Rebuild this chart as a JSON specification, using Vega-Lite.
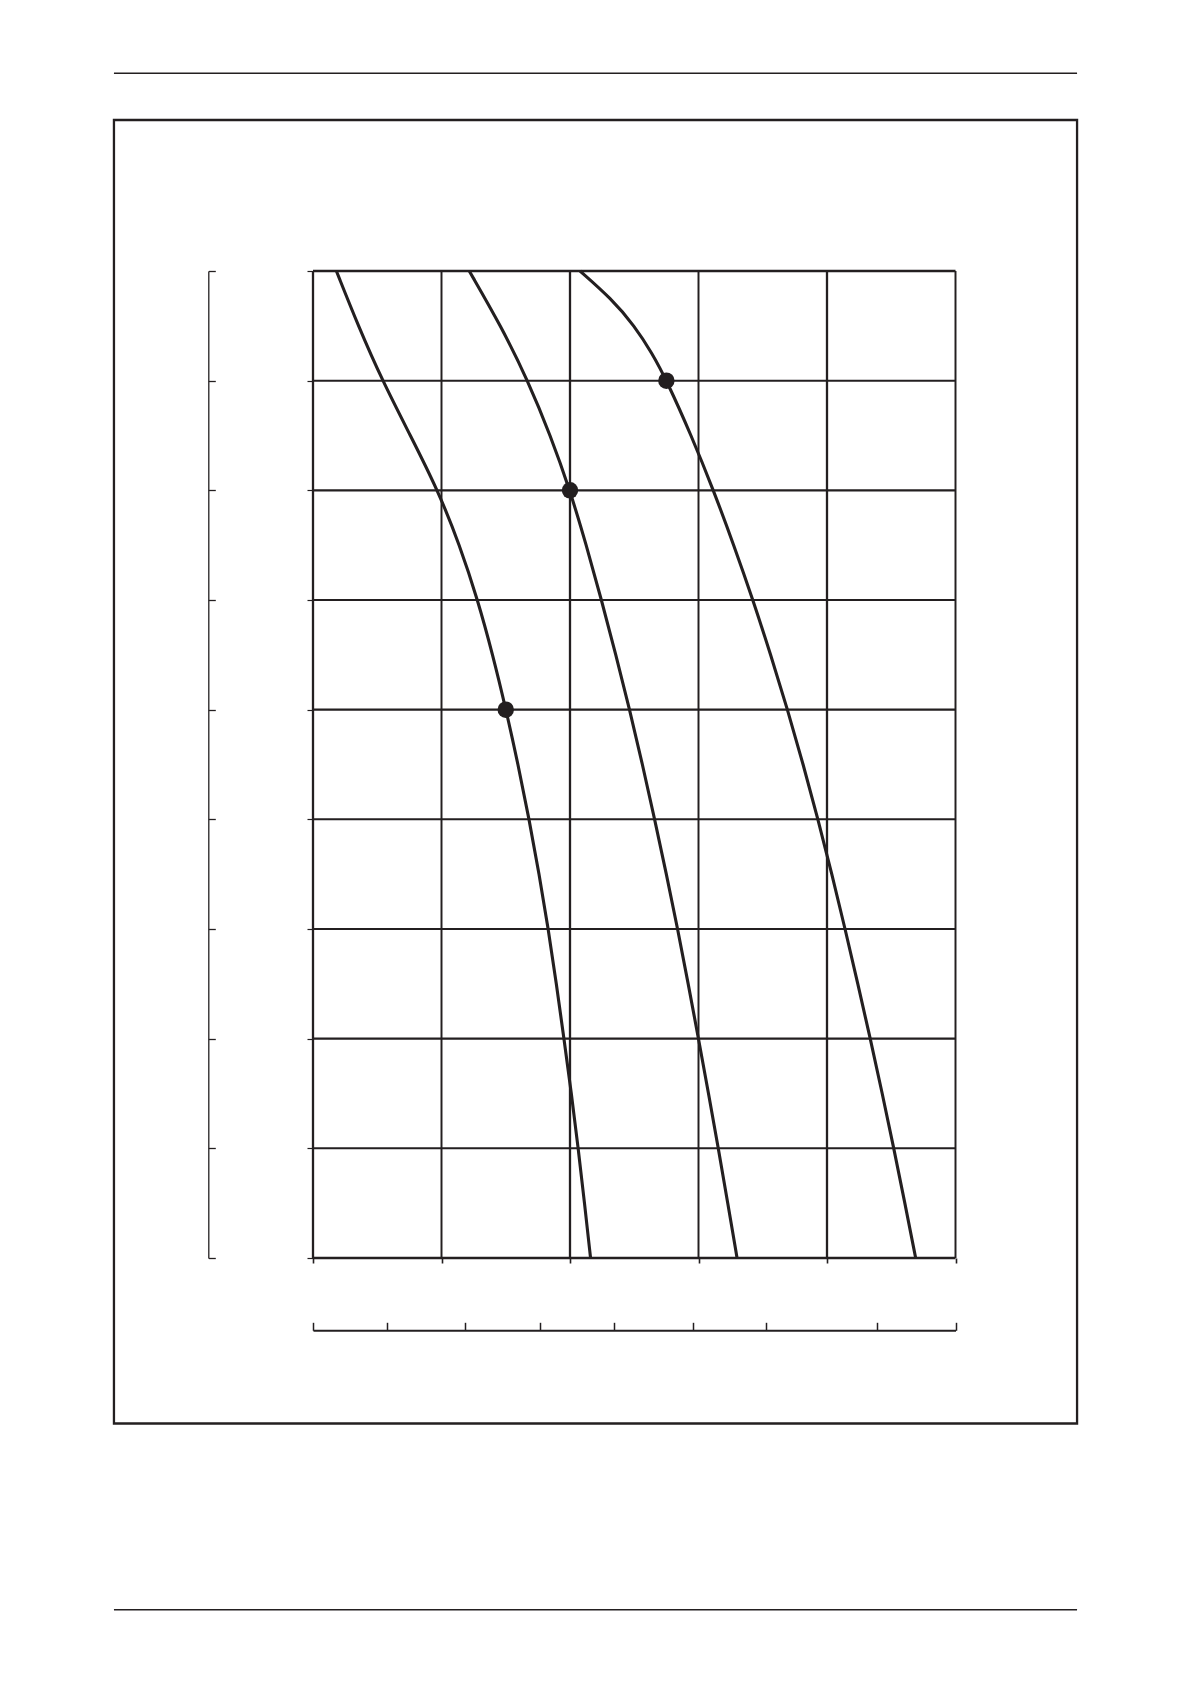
{
  "$schema": "https://vega.github.io/schema/vega-lite/v6.json",
  "width": 642.5,
  "height": 987,
  "autosize": {"type": "none"},
  "padding": {"left": 313, "top": 271, "right": 235.5, "bottom": 426},
  "background": "white",
  "config": {
    "view": {"stroke": null},
    "axis": {"labels": false, "title": null, "grid": false, "tickColor": "#231f20", "domainColor": "#231f20"}
  },
  "datasets": {
    "frame": [{"part": "frame", "x0": -1.549, "x1": 5.946, "y0": -1.509, "y1": 10.377}],
    "pageRules": [
      {"part": "header", "x0": -1.549, "x1": 5.946, "y": 10.803},
      {"part": "footer", "x0": -1.549, "x1": 5.946, "y": -3.207}
    ],
    "vgrid": [
      {"x": 0, "w": "major"}, {"x": 1, "w": "minor"}, {"x": 2, "w": "major"},
      {"x": 3, "w": "minor"}, {"x": 4, "w": "major"}, {"x": 5, "w": "minor"}
    ],
    "hgrid": [
      {"y": 0, "w": "major"}, {"y": 1, "w": "minor"}, {"y": 2, "w": "major"},
      {"y": 3, "w": "minor"}, {"y": 4, "w": "minor"}, {"y": 5, "w": "major"},
      {"y": 6, "w": "minor"}, {"y": 7, "w": "major"}, {"y": 8, "w": "minor"},
      {"y": 9, "w": "major"}
    ],
    "curves": [
      {"curve": "A", "x": 0.182, "y": 9},
      {"curve": "A", "x": 0.352, "y": 8.5},
      {"curve": "A", "x": 0.54, "y": 8},
      {"curve": "A", "x": 0.758, "y": 7.5},
      {"curve": "A", "x": 0.972, "y": 7},
      {"curve": "A", "x": 1.142, "y": 6.5},
      {"curve": "A", "x": 1.282, "y": 6},
      {"curve": "A", "x": 1.399, "y": 5.5},
      {"curve": "A", "x": 1.502, "y": 5},
      {"curve": "A", "x": 1.596, "y": 4.5},
      {"curve": "A", "x": 1.682, "y": 4},
      {"curve": "A", "x": 1.76, "y": 3.5},
      {"curve": "A", "x": 1.831, "y": 3},
      {"curve": "A", "x": 1.894, "y": 2.5},
      {"curve": "A", "x": 1.953, "y": 2},
      {"curve": "A", "x": 2.011, "y": 1.5},
      {"curve": "A", "x": 2.064, "y": 1},
      {"curve": "A", "x": 2.113, "y": 0.5},
      {"curve": "A", "x": 2.16, "y": 0},
      {"curve": "B", "x": 1.216, "y": 9},
      {"curve": "B", "x": 1.462, "y": 8.5},
      {"curve": "B", "x": 1.672, "y": 8},
      {"curve": "B", "x": 1.848, "y": 7.5},
      {"curve": "B", "x": 2.0, "y": 7},
      {"curve": "B", "x": 2.127, "y": 6.5},
      {"curve": "B", "x": 2.245, "y": 6},
      {"curve": "B", "x": 2.357, "y": 5.5},
      {"curve": "B", "x": 2.464, "y": 5},
      {"curve": "B", "x": 2.564, "y": 4.5},
      {"curve": "B", "x": 2.659, "y": 4},
      {"curve": "B", "x": 2.75, "y": 3.5},
      {"curve": "B", "x": 2.838, "y": 3},
      {"curve": "B", "x": 2.92, "y": 2.5},
      {"curve": "B", "x": 3.0, "y": 2},
      {"curve": "B", "x": 3.078, "y": 1.5},
      {"curve": "B", "x": 3.154, "y": 1},
      {"curve": "B", "x": 3.228, "y": 0.5},
      {"curve": "B", "x": 3.3, "y": 0},
      {"curve": "C", "x": 2.078, "y": 9},
      {"curve": "C", "x": 2.32, "y": 8.75},
      {"curve": "C", "x": 2.502, "y": 8.5},
      {"curve": "C", "x": 2.639, "y": 8.25},
      {"curve": "C", "x": 2.753, "y": 8},
      {"curve": "C", "x": 2.944, "y": 7.5},
      {"curve": "C", "x": 3.117, "y": 7},
      {"curve": "C", "x": 3.275, "y": 6.5},
      {"curve": "C", "x": 3.424, "y": 6},
      {"curve": "C", "x": 3.562, "y": 5.5},
      {"curve": "C", "x": 3.693, "y": 5},
      {"curve": "C", "x": 3.815, "y": 4.5},
      {"curve": "C", "x": 3.93, "y": 4},
      {"curve": "C", "x": 4.038, "y": 3.5},
      {"curve": "C", "x": 4.141, "y": 3},
      {"curve": "C", "x": 4.24, "y": 2.5},
      {"curve": "C", "x": 4.337, "y": 2},
      {"curve": "C", "x": 4.43, "y": 1.5},
      {"curve": "C", "x": 4.52, "y": 1},
      {"curve": "C", "x": 4.606, "y": 0.5},
      {"curve": "C", "x": 4.69, "y": 0}
    ],
    "points": [
      {"curve": "A", "x": 1.5, "y": 5},
      {"curve": "B", "x": 2.0, "y": 7},
      {"curve": "C", "x": 2.75, "y": 8}
    ]
  },
  "resolve": {"axis": {"x": "independent", "y": "independent"}},
  "layer": [
    {
      "data": {"name": "frame"},
      "mark": {"type": "rect", "fill": null, "stroke": "#231f20", "strokeWidth": 2.3},
      "encoding": {
        "x": {"field": "x0", "type": "quantitative", "scale": {"domain": [0, 5], "nice": false, "zero": false}, "axis": null},
        "x2": {"field": "x1"},
        "y": {"field": "y0", "type": "quantitative", "scale": {"domain": [0, 9], "nice": false, "zero": false}, "axis": null},
        "y2": {"field": "y1"}
      }
    },
    {
      "data": {"name": "pageRules"},
      "mark": {"type": "rule", "color": "#231f20"},
      "encoding": {
        "x": {"field": "x0", "type": "quantitative", "scale": {"domain": [0, 5], "nice": false, "zero": false}, "axis": null},
        "x2": {"field": "x1"},
        "y": {"field": "y", "type": "quantitative", "scale": {"domain": [0, 9], "nice": false, "zero": false}, "axis": null},
        "strokeWidth": {"field": "part", "type": "nominal", "scale": {"domain": ["header", "footer"], "range": [1.3, 2.3]}, "legend": null}
      }
    },
    {
      "data": {"name": "vgrid"},
      "mark": {"type": "rule", "color": "#231f20"},
      "encoding": {
        "x": {
          "field": "x", "type": "quantitative",
          "scale": {"domain": [0, 5], "nice": false, "zero": false},
          "axis": {"orient": "bottom", "values": [0, 1, 2, 3, 4, 5], "domain": false, "ticks": true, "tickSize": 5, "tickWidth": 1.6, "offset": 0}
        },
        "y": {
          "datum": 0, "type": "quantitative",
          "scale": {"domain": [0, 9], "nice": false, "zero": false},
          "axis": {"orient": "left", "values": [0, 1, 2, 3, 4, 5, 6, 7, 8, 9], "domain": false, "ticks": true, "tickSize": 6, "tickWidth": 1.2, "offset": 0}
        },
        "y2": {"datum": 9},
        "strokeWidth": {"field": "w", "type": "nominal", "scale": {"domain": ["minor", "major"], "range": [1.2, 2.4]}, "legend": null}
      }
    },
    {
      "data": {"name": "hgrid"},
      "mark": {"type": "rule", "color": "#231f20"},
      "encoding": {
        "y": {
          "field": "y", "type": "quantitative",
          "scale": {"domain": [0, 9], "nice": false, "zero": false},
          "axis": {"orient": "left", "values": [0, 1, 2, 3, 4, 5, 6, 7, 8, 9], "offset": 104.7, "domain": true, "domainWidth": 1.3, "ticks": true, "tickSize": -7, "tickWidth": 1.3}
        },
        "x": {
          "datum": 0, "type": "quantitative",
          "scale": {"domain": [0, 5], "nice": false, "zero": false},
          "axis": {"orient": "bottom", "values": [0, 0.575, 1.179, 1.77, 2.341, 2.96, 3.524, 4.389, 5], "offset": 72.3, "domain": true, "domainWidth": 2, "ticks": true, "tickSize": -8, "tickWidth": 1.5}
        },
        "x2": {"datum": 5},
        "strokeWidth": {"field": "w", "type": "nominal", "scale": {"domain": ["minor", "major"], "range": [1.2, 2.4]}, "legend": null}
      }
    },
    {
      "data": {"name": "curves"},
      "mark": {"type": "line", "color": "#231f20", "strokeWidth": 3.1, "interpolate": "basis"},
      "encoding": {
        "x": {"field": "x", "type": "quantitative", "scale": {"domain": [0, 5], "nice": false, "zero": false}, "axis": null},
        "y": {"field": "y", "type": "quantitative", "scale": {"domain": [0, 9], "nice": false, "zero": false}, "axis": null},
        "detail": {"field": "curve", "type": "nominal"},
        "order": {"field": "x", "type": "quantitative"}
      }
    },
    {
      "data": {"name": "points"},
      "mark": {"type": "point", "filled": true, "color": "#231f20", "opacity": 1, "size": 270},
      "encoding": {
        "x": {"field": "x", "type": "quantitative", "scale": {"domain": [0, 5], "nice": false, "zero": false}, "axis": null},
        "y": {"field": "y", "type": "quantitative", "scale": {"domain": [0, 9], "nice": false, "zero": false}, "axis": null}
      }
    }
  ]
}
